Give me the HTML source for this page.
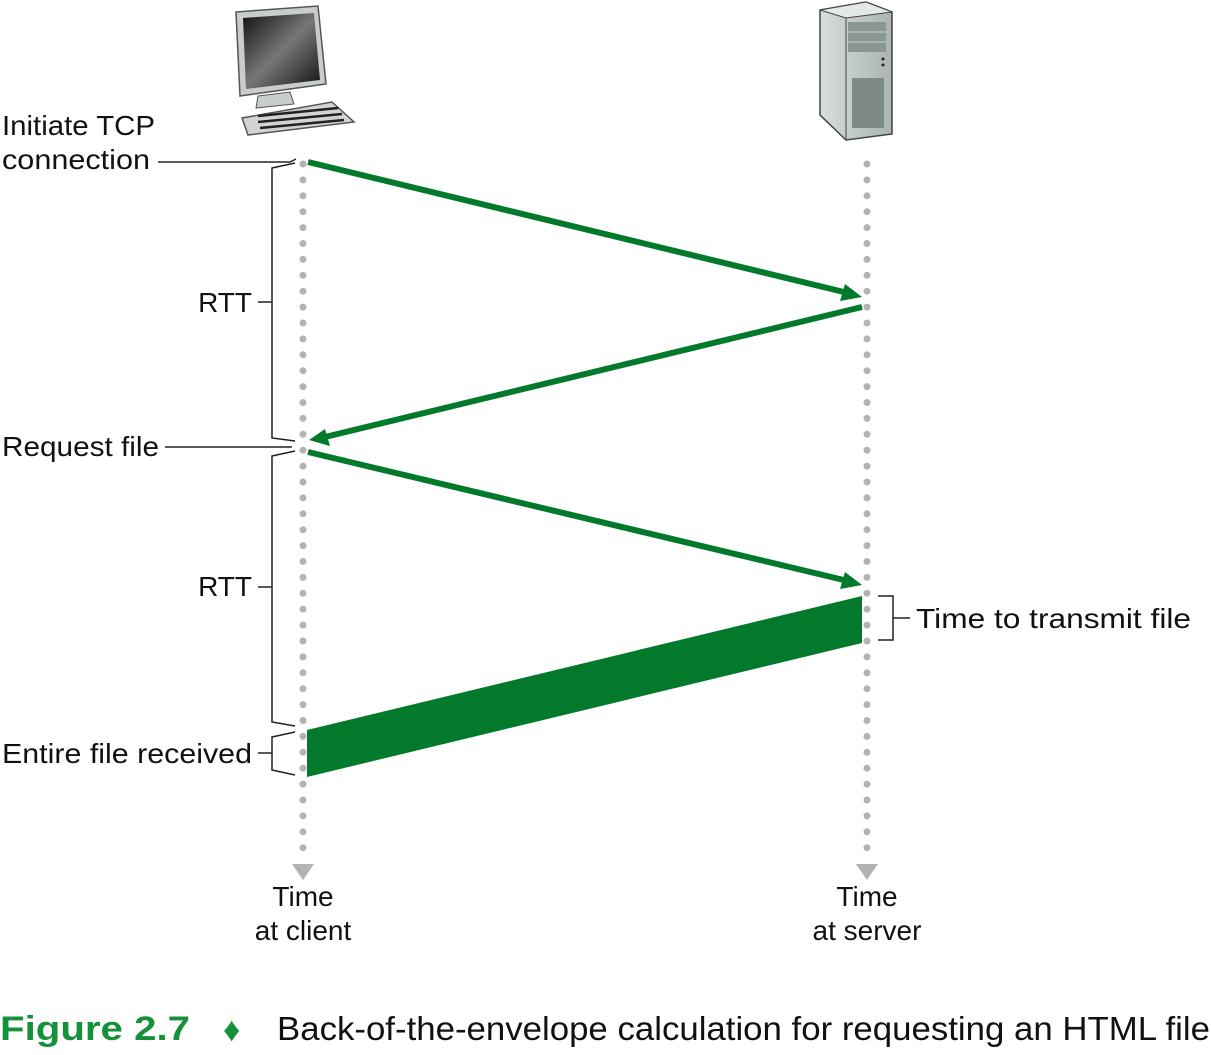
<!DOCTYPE html>
<html><head><style>
body{margin:0;background:#fff}
svg text{font-family:"Liberation Sans",sans-serif;fill:#111}
</style></head><body>
<svg width="1211" height="1050" viewBox="0 0 1211 1050" xmlns="http://www.w3.org/2000/svg">
<defs>
<linearGradient id="scr" x1="0" y1="0" x2="1" y2="1"><stop offset="0" stop-color="#111"/><stop offset="0.5" stop-color="#777"/><stop offset="1" stop-color="#111"/></linearGradient>
<linearGradient id="gr" x1="0" y1="0" x2="1" y2="0"><stop offset="0" stop-color="#d8dedc"/><stop offset="1" stop-color="#aab4b0"/></linearGradient>
</defs>
<!-- computer -->
<polygon points="236,12 318,6 326,84 240,96" fill="#c8cccb" stroke="#555" stroke-width="1.5"/>
<polygon points="243,18 314,13 320,80 246,89" fill="url(#scr)"/>
<polygon points="258,96 290,92 294,104 256,108" fill="#c8cccb" stroke="#555"/>
<polygon points="242,118 332,102 354,122 248,135" fill="#d0d4d3" stroke="#555" stroke-width="1.5"/>
<line x1="258" y1="116" x2="338" y2="108" stroke="#222" stroke-width="2.5"/>
<line x1="258" y1="122" x2="342" y2="114" stroke="#222" stroke-width="2.5"/>
<line x1="260" y1="128" x2="344" y2="120" stroke="#222" stroke-width="2.5"/>
<!-- server -->
<polygon points="820,10 866,2 892,12 892,134 846,140 820,115" fill="url(#gr)" stroke="#444" stroke-width="1.5"/>
<polygon points="820,10 866,2 892,12 846,18" fill="#e4e8e6" stroke="#444"/>
<line x1="846" y1="18" x2="846" y2="140" stroke="#444"/>
<rect x="848" y="22" width="38" height="30" fill="#8a9692"/>
<line x1="848" y1="32" x2="886" y2="32" stroke="#ccc"/><line x1="848" y1="42" x2="886" y2="42" stroke="#ccc"/>
<circle cx="883" cy="59" r="1.5" fill="#222"/><circle cx="883" cy="65" r="1.5" fill="#222"/>
<rect x="852" y="78" width="32" height="50" fill="#7d8a86"/>
<!-- dotted lines -->
<line x1="303" y1="164" x2="303" y2="852" stroke="#b3b3b3" stroke-width="7" stroke-linecap="round" stroke-dasharray="0 15.9"/>
<line x1="867" y1="164" x2="867" y2="852" stroke="#b3b3b3" stroke-width="7" stroke-linecap="round" stroke-dasharray="0 15.9"/>
<polygon points="292,864 314,864 303,880" fill="#b3b3b3"/>
<polygon points="856,864 878,864 867,880" fill="#b3b3b3"/>
<!-- arrows -->
<g stroke="#037a2b" stroke-width="6" fill="#037a2b">
<line x1="308" y1="162" x2="848" y2="293"/>
<line x1="862" y1="307" x2="325" y2="437"/>
<line x1="308" y1="452" x2="848" y2="581"/>
</g>
<polygon points="862,297 840,301 845,284" fill="#037a2b"/>
<polygon points="309,440 330,446 325,429" fill="#037a2b"/>
<polygon points="862,585 840,589 845,572" fill="#037a2b"/>
<polygon points="862,596 862,643 307,777 307,730" fill="#037a2b"/>
<!-- brackets -->
<g stroke="#222" stroke-width="1.5" fill="none">
<polyline points="158,162 290,162 296,159"/>
<polyline points="295,163 272,168 272,438 295,441"/>
<line x1="258" y1="302" x2="272" y2="302"/>
<polyline points="165,447 292,447"/>
<polyline points="295,451 272,456 272,722 295,726"/>
<line x1="258" y1="587" x2="272" y2="587"/>
<polyline points="295,732 272,737 272,770 295,775"/>
<line x1="258" y1="753" x2="272" y2="753"/>
<polyline points="878,596 893,596 893,640 878,640"/>
<line x1="893" y1="618" x2="910" y2="618"/>
</g>
<g font-size="28">
<text x="2" y="135" textLength="153" lengthAdjust="spacingAndGlyphs">Initiate TCP</text>
<text x="2" y="169" textLength="148" lengthAdjust="spacingAndGlyphs">connection</text>
<text x="252" y="312" text-anchor="end">RTT</text>
<text x="2" y="456" textLength="157" lengthAdjust="spacingAndGlyphs">Request file</text>
<text x="252" y="596" text-anchor="end">RTT</text>
<text x="2" y="763" textLength="250" lengthAdjust="spacingAndGlyphs">Entire file received</text>
<text x="916" y="628" textLength="275" lengthAdjust="spacingAndGlyphs">Time to transmit file</text>
<text x="303" y="906" text-anchor="middle">Time</text>
<text x="303" y="940" text-anchor="middle">at client</text>
<text x="867" y="906" text-anchor="middle">Time</text>
<text x="867" y="940" text-anchor="middle">at server</text>
</g>
<text x="0" y="1040" font-size="34" font-weight="bold" style="fill:#15913a" textLength="190" lengthAdjust="spacingAndGlyphs">Figure 2.7</text>
<text x="223" y="1041" font-size="34" style="fill:#15913a">♦</text>
<text x="277" y="1040" font-size="33" textLength="933" lengthAdjust="spacingAndGlyphs">Back-of-the-envelope calculation for requesting an HTML file</text>
</svg>
</body></html>
